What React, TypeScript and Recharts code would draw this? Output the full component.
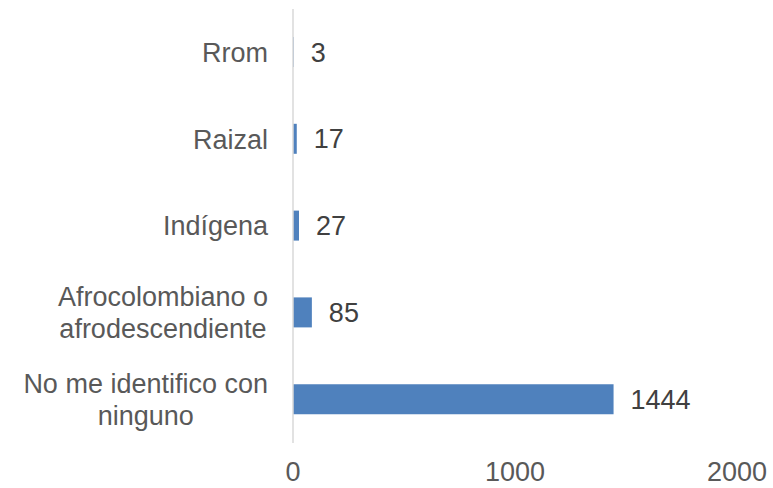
import React from 'react';
import { BarChart, Bar, XAxis, YAxis, LabelList } from 'recharts';

const categories = ['Rrom', 'Raizal', 'Indígena', 'Afrocolombiano o\nafrodescendiente', 'No me identifico con\nninguno'];
const values = [3, 17, 27, 85, 1444];
const xTicks = [0, 1000, 2000];

const data = categories.map((name, i) => ({ name, value: values[i] }));

const FONT = "'Liberation Sans', Arial, sans-serif";
const FS = 27;

let ctx: CanvasRenderingContext2D | null = null;
function measure(t: string): number {
  if (!ctx) {
    const c = document.createElement('canvas');
    ctx = c.getContext('2d');
  }
  if (!ctx) return t.length * FS * 0.5;
  ctx.font = `${FS}px ${FONT}`;
  return ctx.measureText(t).width;
}

const CatTick = (props: any) => {
  const { x, y, payload } = props;
  const lines = String(payload.value).split('\n');
  const n = lines.length;
  const maxW = Math.max(...lines.map(measure));
  const cx = x - maxW / 2;
  return (
    <g>
      {lines.map((l, i) => (
        <text
          key={i}
          x={n === 1 ? x : cx}
          y={y + (i - (n - 1) / 2) * 32 + 0.35 * FS}
          textAnchor={n === 1 ? 'end' : 'middle'}
          fill="#595959"
          fontSize={FS}
          fontFamily={FONT}
        >
          {l}
        </text>
      ))}
    </g>
  );
};

export default function App() {
  return (
    <div style={{ position: 'absolute', left: 0, top: 0, background: '#fff' }}>
      <BarChart
        width={773}
        height={488}
        data={data}
        layout="vertical"
        margin={{ top: 9, right: 36, bottom: 0, left: 0 }}
      >
        <XAxis
          type="number"
          domain={[0, 2000]}
          ticks={xTicks}
          height={45}
          axisLine={false}
          tickLine={false}
          tickSize={6}
          tickMargin={13}
          tick={{ fill: '#595959', fontSize: FS, fontFamily: FONT }}
          interval={0}
        />
        <YAxis
          type="category"
          dataKey="name"
          width={293}
          axisLine={{ stroke: '#D9D9D9', strokeWidth: 1.5 }}
          tickLine={false}
          tickSize={6}
          tickMargin={19}
          tick={<CatTick />}
          interval={0}
        />
        <Bar dataKey="value" fill="#4F81BD" barSize={30} isAnimationActive={false}>
          <LabelList
            dataKey="value"
            position="right"
            offset={17}
            fill="#404040"
            fontSize={FS}
            fontFamily={FONT}
          />
        </Bar>
      </BarChart>
    </div>
  );
}
